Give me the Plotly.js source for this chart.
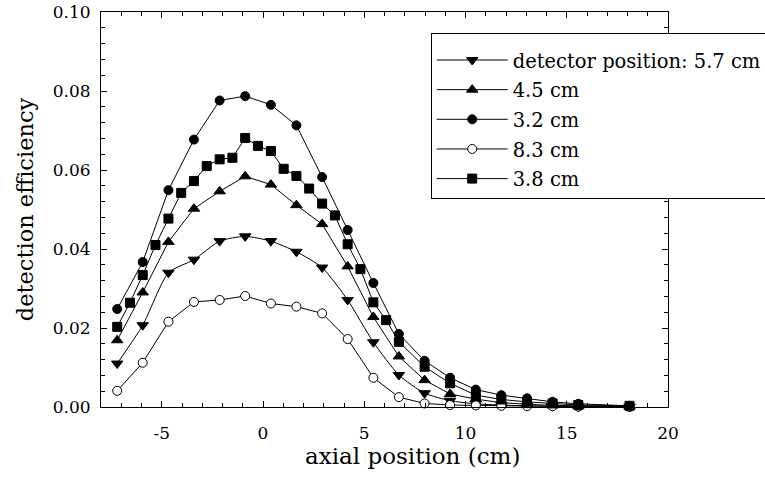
<!DOCTYPE html>
<html>
<head>
<meta charset="utf-8">
<script src="https://cdn.plot.ly/plotly-3.0.1.min.js"></script>
<style>html,body{margin:0;padding:0;background:#fff;}#chart{width:765px;height:490px;}</style>
</head>
<body>
<div id="chart"></div>
<script>
// axial positions (cm)
const xMain = [-7.2, -5.94, -4.67, -3.41, -2.14, -0.88, 0.39, 1.65, 2.92, 4.18, 5.45, 6.71, 7.98, 9.24, 10.51, 11.77, 13.04, 14.3, 15.57, 18.1];
const xFine = [-7.2, -6.57, -5.94, -5.31, -4.67, -4.04, -3.41, -2.78, -2.14, -1.51, -0.88, -0.25, 0.39, 1.02, 1.65, 2.28, 2.92, 3.55, 4.18, 4.81, 5.45, 6.08, 6.71, 7.98, 9.24, 10.51, 11.77, 13.04, 14.3, 15.57, 18.1];

// detection efficiency per detector position
const eff57 = [0.011, 0.0207, 0.034, 0.0373, 0.042, 0.0432, 0.042, 0.0393, 0.0353, 0.0271, 0.0164, 0.0081, 0.0035, 0.0016, 0.0008, 0.0005, 0.0003, 0.0002, 0.0001, 0.0001];
const eff45 = [0.0169, 0.029, 0.0418, 0.0502, 0.0546, 0.0584, 0.0563, 0.0511, 0.0463, 0.0356, 0.0228, 0.0128, 0.0068, 0.0033, 0.002, 0.0011, 0.0007, 0.0004, 0.0003, 0.0001];
const eff32 = [0.0248, 0.0367, 0.0549, 0.0677, 0.0776, 0.0787, 0.0765, 0.0713, 0.0582, 0.0448, 0.0314, 0.0185, 0.0117, 0.0074, 0.0044, 0.003, 0.0022, 0.0013, 0.0008, 0.0003];
const eff83 = [0.0041, 0.0112, 0.0216, 0.0266, 0.0271, 0.0281, 0.0262, 0.0254, 0.0237, 0.0172, 0.0074, 0.0025, 0.0009, 0.0005, 0.0004, 0.0003, 0.0002, 0.0002, 0.0001, 0.0];
const eff38 = [0.0203, 0.0264, 0.0334, 0.041, 0.0477, 0.0542, 0.0572, 0.061, 0.0627, 0.0631, 0.0681, 0.0661, 0.0648, 0.0603, 0.0585, 0.0553, 0.0515, 0.0485, 0.0412, 0.0349, 0.0265, 0.022, 0.0165, 0.0102, 0.006, 0.003, 0.0019, 0.0013, 0.0009, 0.0005, 0.0003];

const seriesNames = ['detector position: 5.7 cm', '4.5 cm', '3.2 cm', '8.3 cm', '3.8 cm'];
const xTickVals = [-5, 0, 5, 10, 15, 20];
const yTickVals = [0, 0.02, 0.04, 0.06, 0.08, 0.10];

const FONT = 'DejaVu Serif, serif';

function tr(x, y, name, symbol, fill, size, shape) {
  return {
    type: 'scatter', mode: 'lines+markers', x: x, y: y, name: name, legendgroup: name,
    line: {color: '#000', width: 1, shape: shape || 'linear', smoothing: 0.6},
    marker: {symbol: symbol, size: size, color: fill, line: {color: '#000', width: 1}},
    cliponaxis: false
  };
}

const data = [
  tr(xMain, eff57, seriesNames[0], 'triangle-down', '#000', 10, 'spline'),
  tr(xMain, eff45, seriesNames[1], 'triangle-up', '#000', 10),
  tr(xMain, eff32, seriesNames[2], 'circle', '#000', 9),
  tr(xMain, eff83, seriesNames[3], 'circle', '#fff', 9),
  tr(xFine, eff38, seriesNames[4], 'square', '#000', 9)
];

const axisCommon = {
  showline: true, linecolor: '#000', linewidth: 1, mirror: 'allticks',
  ticks: 'inside', ticklen: 6, tickwidth: 1, tickcolor: '#000',
  showgrid: false, zeroline: false,
  tickfont: {family: FONT, size: 17, color: '#000'}
};

const layout = {
  width: 765, height: 490,
  margin: {l: 101, r: 97, t: 11.5, b: 83, autoexpand: false},
  paper_bgcolor: '#fff', plot_bgcolor: '#fff',
  font: {family: FONT, color: '#000'},
  showlegend: true,
  legend: {
    x: 0.5815, y: 0.946, xanchor: 'left', yanchor: 'top',
    bgcolor: '#fff', bordercolor: '#000', borderwidth: 1,
    font: {family: FONT, size: 19.5, color: '#000'},
    title: {text: ' ', font: {family: FONT, size: 5}},
    traceorder: 'grouped', tracegroupgap: 1.3, itemwidth: 71
  },
  xaxis: Object.assign({}, axisCommon, {
    range: [-8, 20], tickvals: xTickVals, ticktext: xTickVals.map(String),
    minor: {ticks: 'inside', ticklen: 4, dtick: 1, tick0: 0, tickcolor: '#000', showgrid: false},
    ticklabelstandoff: 11
  }),
  yaxis: Object.assign({}, axisCommon, {
    range: [0, 0.10], tickvals: yTickVals, tickformat: '.2f',
    minor: {ticks: 'inside', ticklen: 4, dtick: 0.004, tick0: 0, tickcolor: '#000', showgrid: false},
    ticklabelstandoff: 6,
    title: {text: 'detection efficiency', font: {family: FONT, size: 22.5, color: '#000'}, standoff: 12}
  }),
  annotations: [{
    text: 'axial position (cm)', xref: 'paper', yref: 'paper',
    x: 0.549, y: -0.124, xanchor: 'center', yanchor: 'middle', showarrow: false,
    font: {family: FONT, size: 23, color: '#000'}
  }]
};

Plotly.newPlot('chart', data, layout, {displayModeBar: false, staticPlot: true});
</script>
</body>
</html>
